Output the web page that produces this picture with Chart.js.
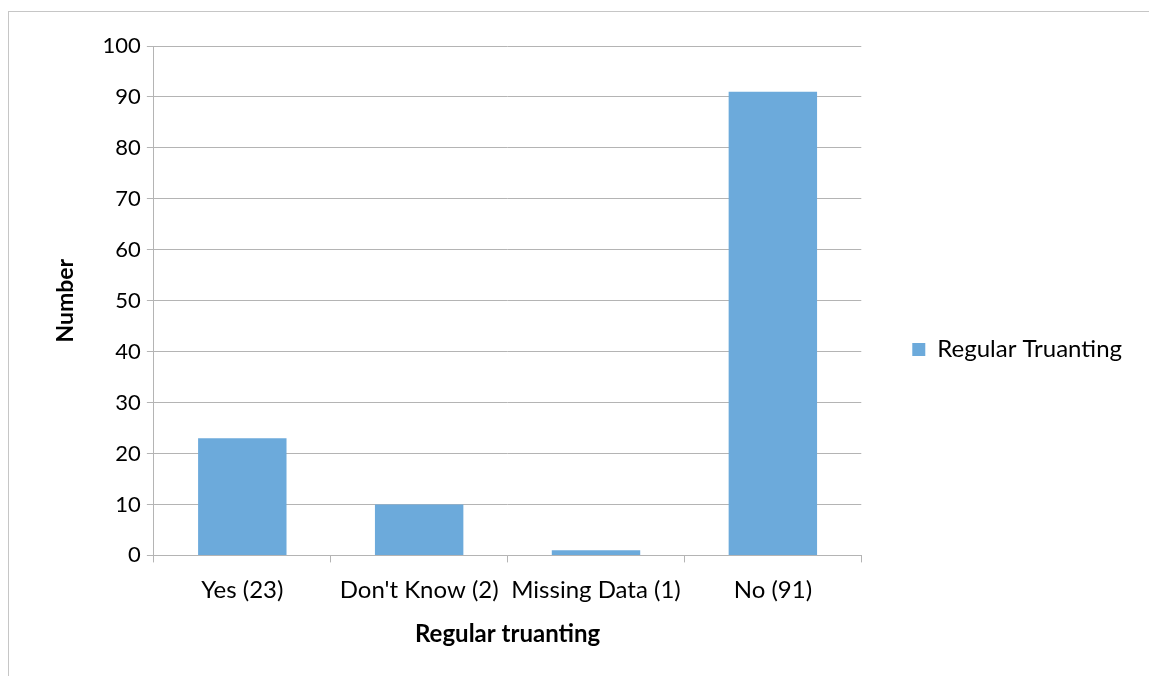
<!DOCTYPE html>
<html>
<head>
<meta charset="utf-8">
<script src="https://cdn.jsdelivr.net/npm/chart.js@4"></script>
<style>
html,body{margin:0;padding:0;background:#fff;width:1149px;height:676px;overflow:hidden;}
#frame{position:absolute;left:8px;top:11px;width:1200px;height:700px;border-top:1px solid #c6c6c6;border-left:1px solid #c6c6c6;}
#wrap{position:absolute;left:0;top:0;width:1149px;height:676px;}
</style>
</head>
<body>
<div id="frame"></div>
<div id="wrap"><canvas id="c" width="1149" height="676"></canvas></div>
<script>
const categories = ["Yes (23)", "Don't Know (2)", "Missing Data (1)", "No (91)"];
const seriesName = "Regular Truanting";
const values = [23, 10, 1, 91];
const yTicks = [0, 10, 20, 30, 40, 50, 60, 70, 80, 90, 100];
const xTitle = "Regular truanting";
const yTitle = "Number";

const FONT = "Lato, 'Open Sans', sans-serif";
const gridColor = "#b4b4b4";

new Chart(document.getElementById('c'), {
  type: 'bar',
  data: {
    labels: categories,
    datasets: [{
      label: seriesName,
      data: values,
      backgroundColor: '#6caadb',
      borderWidth: 0,
      barPercentage: 0.5,
      categoryPercentage: 1.0
    }]
  },
  options: {
    responsive: false,
    animation: false,
    devicePixelRatio: 1,
    layout: { padding: { left: 48, top: 46, right: 17, bottom: 23 } },
    plugins: {
      legend: {
        position: 'right',
        align: 'center',
        labels: {
          boxWidth: 13, boxHeight: 13, padding: 51,
          color: '#000',
          font: { family: FONT, size: 24 }
        }
      },
      tooltip: { enabled: false }
    },
    scales: {
      x: {
        grid: { display: true, drawOnChartArea: false, drawTicks: true, tickLength: 7, color: gridColor, offset: true },
        border: { color: gridColor, width: 1 },
        ticks: { color: '#000', font: { family: FONT, size: 24 }, padding: 13, maxRotation: 0, autoSkip: false },
        title: { display: true, text: xTitle, color: '#000', font: { family: FONT, size: 24, weight: 'bold' }, padding: { top: 3 } }
      },
      y: {
        min: 0, max: 100,
        afterBuildTicks: (s) => { s.ticks = yTicks.map(v => ({ value: v })); },
        grid: { color: gridColor, tickLength: 7 },
        border: { color: gridColor, width: 1 },
        ticks: { color: '#000', font: { family: FONT, size: 22 }, padding: 6 },
        title: { display: true, text: yTitle, color: '#000', font: { family: FONT, size: 23, weight: 'bold' }, padding: { bottom: 17 } }
      }
    }
  }
});
</script>
</body>
</html>
